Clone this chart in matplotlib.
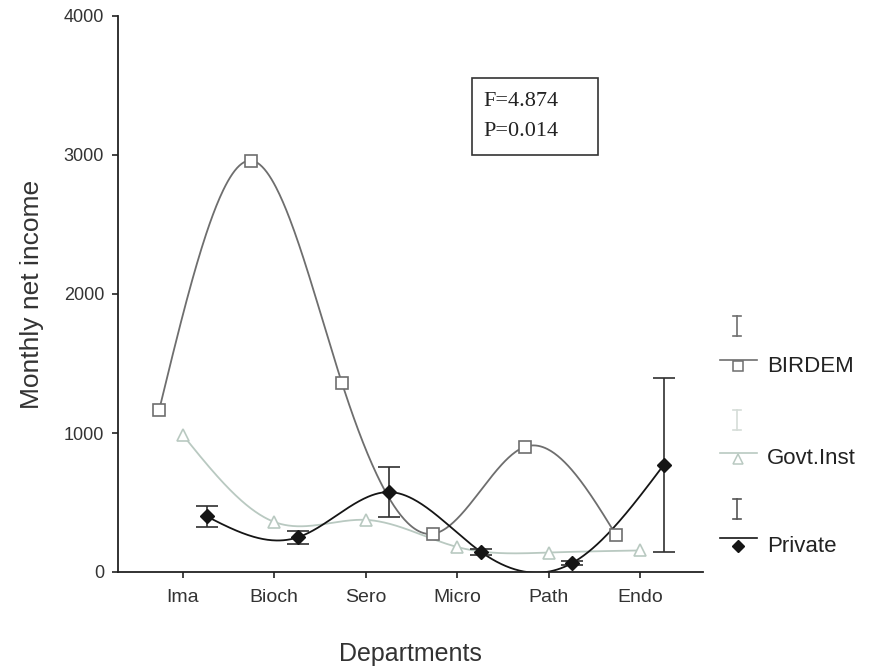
import numpy as np
import matplotlib
matplotlib.use("Agg")
import matplotlib.pyplot as plt

plt.rcParams['font.family'] = ['Liberation Sans', 'DejaVu Sans']

departments = ["Ima", "Bioch", "Sero", "Micro", "Path", "Endo"]
birdem = [1165, 2960, 1360, 275, 900, 265]
govt_inst = [985, 360, 375, 180, 140, 155]
private = [400, 250, 575, 145, 65, 770]
private_err = [75, 45, 180, 20, 15, 625]

series_names = ["BIRDEM", "Govt.Inst", "Private"]
stat_lines = ["F=4.874", "P=0.014"]


def natural_spline(x, y, xs):
    x = np.asarray(x, float)
    y = np.asarray(y, float)
    n = len(x)
    h = np.diff(x)
    A = np.zeros((n, n))
    r = np.zeros(n)
    A[0, 0] = 1
    A[-1, -1] = 1
    for i in range(1, n - 1):
        A[i, i - 1] = h[i - 1]
        A[i, i] = 2 * (h[i - 1] + h[i])
        A[i, i + 1] = h[i]
        r[i] = 6 * ((y[i + 1] - y[i]) / h[i] - (y[i] - y[i - 1]) / h[i - 1])
    m = np.linalg.solve(A, r)
    idx = np.clip(np.searchsorted(x, xs) - 1, 0, n - 2)
    x0, x1 = x[idx], x[idx + 1]
    hh = x1 - x0
    a = (x1 - xs) / hh
    b = (xs - x0) / hh
    return (a * y[idx] + b * y[idx + 1]
            + ((a ** 3 - a) * m[idx] + (b ** 3 - b) * m[idx + 1]) * hh ** 2 / 6)


fig = plt.figure(figsize=(8.82, 6.69), dpi=100)
ax = fig.add_axes([118 / 882, 1 - 572 / 669, (703 - 118) / 882, (572 - 16) / 669])

pos = np.arange(len(departments))
offsets = {"BIRDEM": -0.26, "Govt.Inst": 0.0, "Private": 0.26}
colors = {"BIRDEM": "#6e6e6e", "Govt.Inst": "#b9c9c1", "Private": "#151515"}

for name, vals in zip(series_names, [birdem, govt_inst, private]):
    xp = pos + offsets[name]
    xs = np.linspace(xp[0], xp[-1], 400)
    ax.plot(xs, natural_spline(xp, vals, xs), color=colors[name], lw=1.3,
            zorder=2)

ax.plot(pos + offsets["BIRDEM"], birdem, ls="none", marker="s", ms=8,
        mfc="white", mec=colors["BIRDEM"], mew=1.2, zorder=3)
ax.plot(pos + offsets["Govt.Inst"], govt_inst, ls="none", marker="^", ms=8,
        mfc="white", mec=colors["Govt.Inst"], mew=1.2, zorder=3)
ax.errorbar(pos + offsets["Private"], private, yerr=private_err, fmt="D",
            ms=7, color=colors["Private"], ecolor="#303030", elinewidth=1.2,
            capsize=8, capthick=1.2, zorder=4)

ax.set_xlim(-0.71, 5.69)
ax.set_ylim(0, 4000)
ax.set_yticks([0, 1000, 2000, 3000, 4000])
ax.set_xticks(pos)
ax.set_xticklabels(departments)
for s in ["top", "right"]:
    ax.spines[s].set_visible(False)
for s in ["left", "bottom"]:
    ax.spines[s].set_color("#222222")
    ax.spines[s].set_linewidth(1.3)
ax.tick_params(axis="both", direction="out", length=4, width=1.2,
               colors="#222222", labelcolor="#333333")
ax.tick_params(axis="x", pad=8, labelsize=14)
ax.tick_params(axis="y", pad=6, labelsize=13)

ax.set_ylabel("Monthly net income", fontsize=19, color="#333333", labelpad=14)
ax.set_xlabel("Departments", fontsize=18, color="#333333", labelpad=26)

# annotation box and legend artwork drawn in pixel space
over = fig.add_axes([0, 0, 1, 1], facecolor="none")
over.set_xlim(0, 882)
over.set_ylim(669, 0)
over.axis("off")
over.add_patch(plt.Rectangle((472, 78), 126, 77, fill=False,
                             ec="#333333", lw=1.2))
over.text(483, 101, stat_lines[0], family="Liberation Serif", fontsize=16,
          va="center", color="#222222")
over.text(483, 131, stat_lines[1], family="Liberation Serif", fontsize=16,
          va="center", color="#222222")

legend_rows = [
    ("BIRDEM", "s", colors["BIRDEM"], "#6e6e6e", 326, 360, 366),
    ("Govt.Inst", "^", colors["Govt.Inst"], "#d5ddd8", 420, 453, 459),
    ("Private", "D", colors["Private"], "#555555", 509, 538, 546),
]
for label, mk, col, ecol, ey, ly, my in legend_rows:
    over.plot([737, 737], [ey - 10, ey + 10], color=ecol, lw=1.2)
    over.plot([733, 741], [ey - 10, ey - 10], color=ecol, lw=1.2)
    over.plot([733, 741], [ey + 10, ey + 10], color=ecol, lw=1.2)
    over.plot([720, 757], [ly, ly], color=col, lw=1.2)
    if mk == "D":
        over.plot(738, my, marker=mk, ms=6, color=col, ls="none")
    else:
        over.plot(738, my, marker=mk, ms=7, mfc="white", mec=col,
                  mew=1.1, ls="none")
    over.text(767, my, label, fontsize=16, va="center", color="#222222")

fig.savefig("out.png", dpi=100)
